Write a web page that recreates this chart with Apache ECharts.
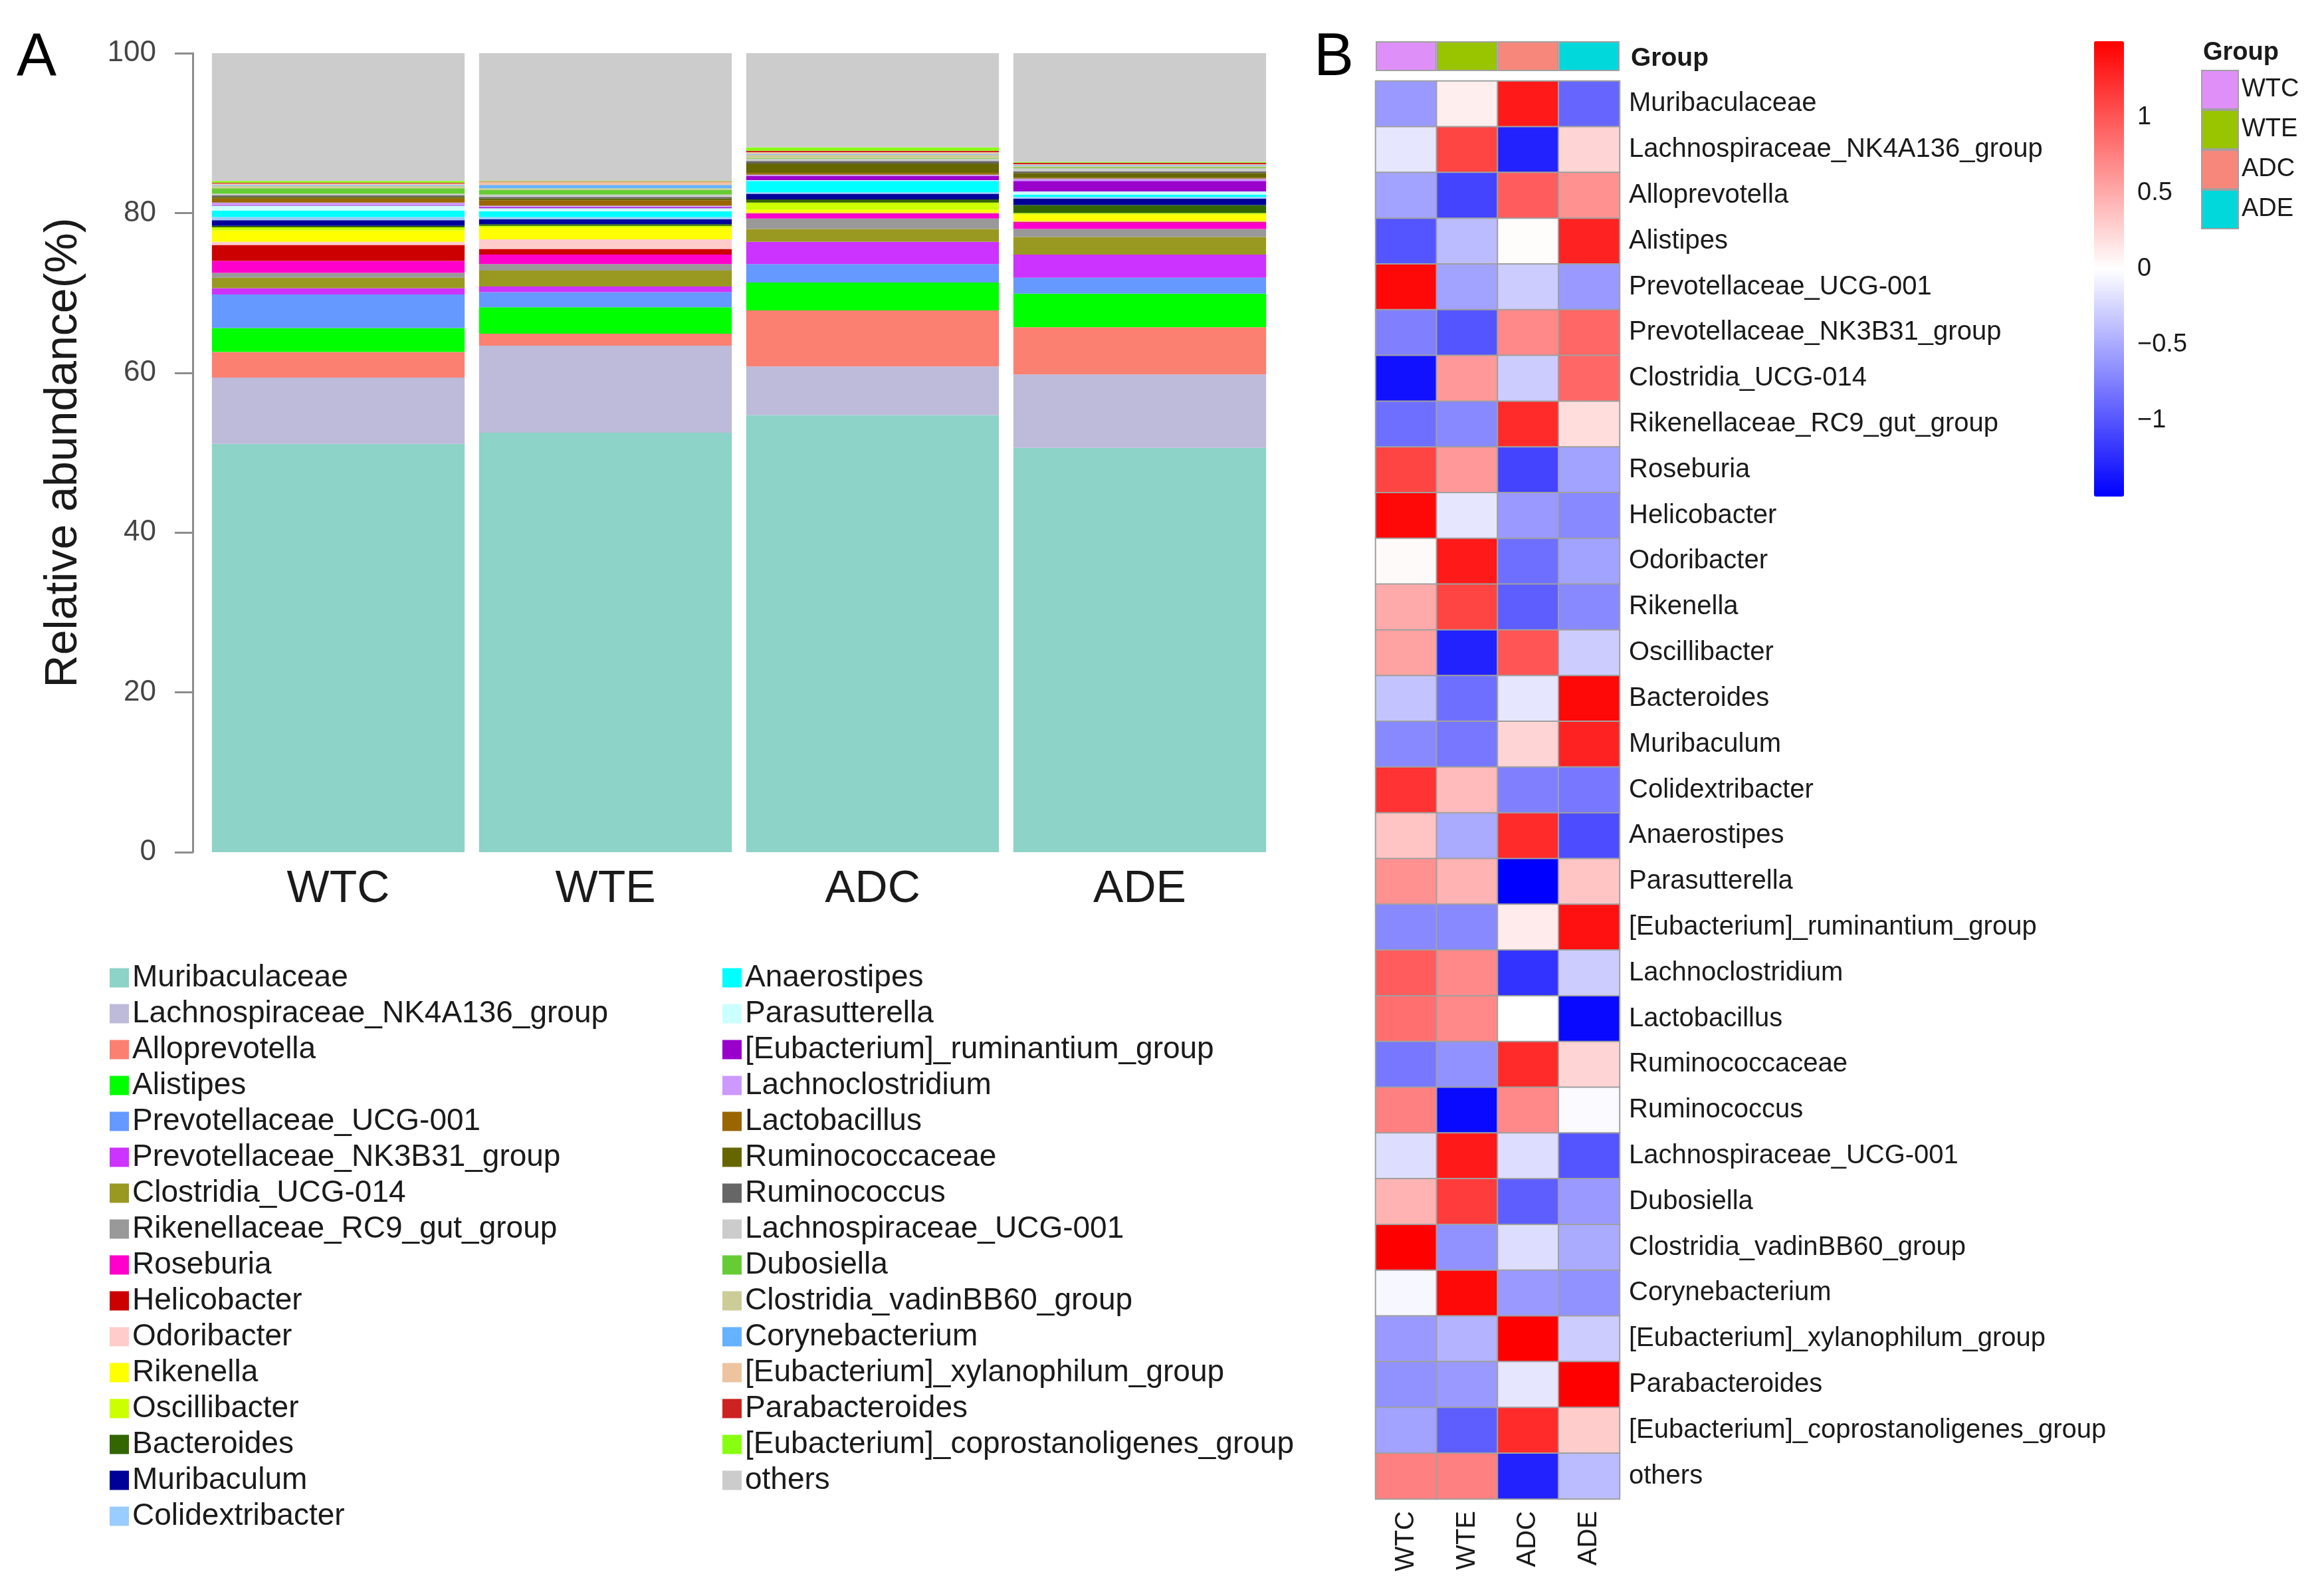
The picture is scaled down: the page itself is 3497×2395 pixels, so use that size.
<!DOCTYPE html>
<html>
<head>
<meta charset="utf-8">
<script src="https://cdn.jsdelivr.net/npm/echarts@6/dist/echarts.min.js"></script>
<style>
  html, body { margin: 0; padding: 0; background: #fff; }
  #main { width: 3497px; height: 2395px; }
</style>
</head>
<body>
<div id="main"></div>
<script>
// groups on the x axis of both panels
var groups = ['WTC', 'WTE', 'ADC', 'ADE'];
var groupColors = ['#DF90F8', '#99C400', '#F8877B', '#00D8DC'];

// taxa, bottom of the stack first
var taxa = [
  'Muribaculaceae', 'Lachnospiraceae_NK4A136_group', 'Alloprevotella', 'Alistipes',
  'Prevotellaceae_UCG-001', 'Prevotellaceae_NK3B31_group', 'Clostridia_UCG-014',
  'Rikenellaceae_RC9_gut_group', 'Roseburia', 'Helicobacter', 'Odoribacter', 'Rikenella',
  'Oscillibacter', 'Bacteroides', 'Muribaculum', 'Colidextribacter', 'Anaerostipes',
  'Parasutterella', '[Eubacterium]_ruminantium_group', 'Lachnoclostridium', 'Lactobacillus',
  'Ruminococcaceae', 'Ruminococcus', 'Lachnospiraceae_UCG-001', 'Dubosiella',
  'Clostridia_vadinBB60_group', 'Corynebacterium', '[Eubacterium]_xylanophilum_group',
  'Parabacteroides', '[Eubacterium]_coprostanoligenes_group', 'others'
];
var taxaColors = [
  '#8DD3C7', '#BEBADA', '#FB8072', '#00FF00', '#6699FF', '#CC33FF', '#999922',
  '#999999', '#FF00CC', '#CC0000', '#FFCCCC', '#FFFF00', '#CCFF00', '#336600',
  '#000099', '#99CCFF', '#00FFFF', '#CCFFFF', '#9900CC', '#CC99FF', '#996600',
  '#666600', '#666666', '#CCCCCC', '#66CC33', '#CCCC99', '#66B2FF', '#EEC4A0',
  '#CC2222', '#88FF11', '#CCCCCC'
];

// relative abundance (%), same order as taxa
var abundWTC = [51.1, 8.3, 3.2, 3.0, 4.2, 0.8, 1.3, 0.6, 1.5, 2.0, 0.4, 1.4, 0.4, 0.2, 0.7, 0.4,
  0.8, 0.6, 0.1, 0.3, 0.5, 0.2, 0.2, 0.2, 0.7, 0.3, 0.1, 0.2, 0.1, 0.2, 16.0];
var abundWTE = [52.5, 10.9, 1.5, 3.3, 1.9, 0.7, 2.0, 0.8, 1.2, 0.7, 1.2, 1.5, 0.2, 0.2, 0.6, 0.3,
  0.7, 0.4, 0.1, 0.2, 0.7, 0.2, 0.2, 0.3, 0.6, 0.2, 0.4, 0.4, 0.05, 0.05, 16.0];
var abundADC = [54.7, 6.1, 7.0, 3.5, 2.3, 2.8, 1.6, 1.3, 0.6, 0.1, 0.05, 0.35, 0.9, 0.4, 0.7, 0.2,
  1.4, 0.1, 0.5, 0.2, 0.2, 1.2, 0.3, 0.3, 0.1, 0.4, 0.1, 0.2, 0.2, 0.4, 11.8];
var abundADE = [50.6, 9.2, 5.9, 4.2, 2.0, 2.9, 2.2, 1.0, 0.8, 0.1, 0.1, 0.8, 0.2, 1.0, 0.8, 0.2,
  0.3, 0.4, 1.3, 0.3, 0.1, 0.6, 0.2, 0.4, 0.1, 0.2, 0.1, 0.1, 0.2, 0.1, 13.6];

// row z-scores for the heatmap: [WTC, WTE, ADC, ADE]
var heatZ = [
  [-0.6, 0.1, 1.35, -0.9],
  [-0.15, 1.1, -1.3, 0.25],
  [-0.55, -1.1, 0.95, 0.65],
  [-1.0, -0.4, 0.02, 1.3],
  [1.45, -0.55, -0.3, -0.6],
  [-0.75, -1.0, 0.7, 0.9],
  [-1.4, 0.6, -0.3, 0.9],
  [-0.85, -0.7, 1.25, 0.2],
  [1.1, 0.6, -1.1, -0.55],
  [1.45, -0.15, -0.6, -0.7],
  [0.03, 1.35, -0.85, -0.55],
  [0.5, 1.1, -0.95, -0.7],
  [0.55, -1.3, 1.0, -0.3],
  [-0.35, -0.85, -0.15, 1.45],
  [-0.7, -0.8, 0.25, 1.3],
  [1.2, 0.4, -0.75, -0.8],
  [0.35, -0.5, 1.25, -1.05],
  [0.65, 0.45, -1.5, 0.35],
  [-0.7, -0.7, 0.12, 1.4],
  [0.95, 0.7, -1.2, -0.3],
  [0.85, 0.7, 0.0, -1.45],
  [-0.8, -0.65, 1.25, 0.25],
  [0.75, -1.45, 0.7, -0.03],
  [-0.2, 1.35, -0.2, -1.0],
  [0.45, 1.15, -0.95, -0.6],
  [1.5, -0.65, -0.2, -0.5],
  [-0.05, 1.45, -0.6, -0.65],
  [-0.6, -0.45, 1.5, -0.3],
  [-0.65, -0.6, -0.15, 1.5],
  [-0.55, -0.95, 1.25, 0.3],
  [0.75, 0.75, -1.3, -0.4]
];

var font = 'Liberation Sans, Arial, sans-serif';
var myChart = echarts.init(document.getElementById('main'));

var series = [];
//堆叠柱
taxa.forEach(function (name, i) {
  series.push({
    type: 'bar',
    name: name,
    stack: 'abund',
    xAxisIndex: 0,
    yAxisIndex: 0,
    barCategoryGap: '5.4%',
    itemStyle: { color: taxaColors[i] },
    emphasis: { disabled: true },
    data: [abundWTC[i], abundWTE[i], abundADC[i], abundADE[i]]
  });
});
//分组注释条
groups.forEach(function (g, i) {
  series.push({
    type: 'bar',
    name: g,
    stack: 'grp',
    xAxisIndex: 1,
    yAxisIndex: 1,
    barWidth: '100%',
    itemStyle: { color: groupColors[i], borderColor: '#a0a0a0', borderWidth: 2 },
    data: groups.map(function (x, j) { return j === i ? 1 : '-'; })
  });
});
//热图
var heatData = [];
heatZ.forEach(function (row, i) {
  row.forEach(function (v, j) { heatData.push([j, i, v]); });
});
var heatIndex = series.length;
series.push({
  type: 'heatmap',
  xAxisIndex: 2,
  yAxisIndex: 2,
  itemStyle: { borderColor: '#a0a0a0', borderWidth: 2 },
  data: heatData
});
//色条刻度用的空系列
series.push({ type: 'scatter', xAxisIndex: 3, yAxisIndex: 3, data: [] });

var legendText = { fontFamily: font, fontSize: 46, lineHeight: 44, color: '#1a1a1a' };

myChart.setOption({
  backgroundColor: '#fff',
  animation: false,
  textStyle: { fontFamily: font },
  title: [
    { text: 'A', left: 20, top: 38, textStyle: { fontFamily: font, fontSize: 90, fontWeight: 'normal', color: '#000' } },
    { text: 'B', left: 1972, top: 38, textStyle: { fontFamily: font, fontSize: 90, fontWeight: 'normal', color: '#000' } },
    { text: 'Group', left: 2449, top: 64, textStyle: { fontFamily: font, fontSize: 39, fontWeight: 'bold', color: '#1a1a1a' } },
    { text: 'Group', left: 3310, top: 56, textStyle: { fontFamily: font, fontSize: 38, fontWeight: 'bold', color: '#1a1a1a' } }
  ],
  legend: [
    {
      data: taxa.slice(0, 16), orient: 'vertical', left: 160, top: 1443,
      icon: 'rect', itemWidth: 29, itemHeight: 29, itemGap: 8,
      selectedMode: false, textStyle: legendText
    },
    {
      data: taxa.slice(16), orient: 'vertical', left: 1082, top: 1443,
      icon: 'rect', itemWidth: 29, itemHeight: 29, itemGap: 8,
      selectedMode: false, textStyle: legendText
    },
    {
      data: groups, orient: 'vertical', left: 3312, top: 105,
      icon: 'rect', itemWidth: 55, itemHeight: 58, itemGap: 0, padding: 0,
      selectedMode: false,
      textStyle: { fontFamily: font, fontSize: 38, lineHeight: 58, color: '#1a1a1a' }
    }
  ],
  grid: [
    { left: 308, top: 80, width: 1608, height: 1202 },
    { left: 2070, top: 62, width: 367, height: 45 },
    { left: 2070, top: 122, width: 367, height: 2133 },
    { left: 3151, top: 62, width: 45, height: 685 }
  ],
  xAxis: [
    {
      gridIndex: 0, type: 'category', data: groups,
      axisLine: { show: false }, axisTick: { show: false },
      axisLabel: { fontFamily: font, fontSize: 68, margin: 22, color: '#1a1a1a' }
    },
    { gridIndex: 1, type: 'category', data: groups, show: false },
    {
      gridIndex: 2, type: 'category', data: groups, position: 'bottom',
      axisLine: { show: false }, axisTick: { show: false }, splitArea: { show: false },
      axisLabel: { fontFamily: font, fontSize: 40, margin: 18, rotate: 90, color: '#1a1a1a' }
    },
    { gridIndex: 3, type: 'category', data: ['c'], show: false }
  ],
  yAxis: [
    {
      gridIndex: 0, type: 'value', min: 0, max: 100, interval: 20, offset: 18,
      name: 'Relative abundance(%)', nameLocation: 'middle', nameGap: 160, nameRotate: 90,
      nameTextStyle: { fontFamily: font, fontSize: 68, color: '#1a1a1a' },
      axisLine: { show: true, lineStyle: { color: '#8c8c8c', width: 3 } },
      axisTick: { show: true, length: 27, lineStyle: { color: '#8c8c8c', width: 3 } },
      axisLabel: { fontFamily: font, fontSize: 44, margin: 55, color: '#444' },
      splitLine: { show: false }
    },
    { gridIndex: 1, type: 'value', min: 0, max: 1, show: false },
    {
      gridIndex: 2, type: 'category', data: taxa, inverse: true, position: 'right',
      axisLine: { show: false }, axisTick: { show: false }, splitArea: { show: false },
      axisLabel: { fontFamily: font, fontSize: 40, margin: 14, color: '#1a1a1a' }
    },
    {
      gridIndex: 3, type: 'value', min: -1.5, max: 1.5, interval: 0.5, position: 'right',
      axisLine: { show: false }, axisTick: { show: false }, splitLine: { show: false },
      axisLabel: {
        fontFamily: font, fontSize: 38, margin: 20, color: '#1a1a1a',
        showMinLabel: false, showMaxLabel: false,
        formatter: function (v) { return v < 0 ? '\u2212' + Math.abs(v) : String(v); }
      }
    }
  ],
  visualMap: {
    type: 'continuous', seriesIndex: heatIndex,
    min: -1.5, max: 1.5, calculable: false, text: null, showLabel: false,
    left: 3151, top: 62, padding: 0, itemWidth: 45, itemHeight: 685,
    inRange: { color: ['#0000FF', '#FFFFFF', '#FF0000'] }
  },
  series: series
});
</script>
</body>
</html>
